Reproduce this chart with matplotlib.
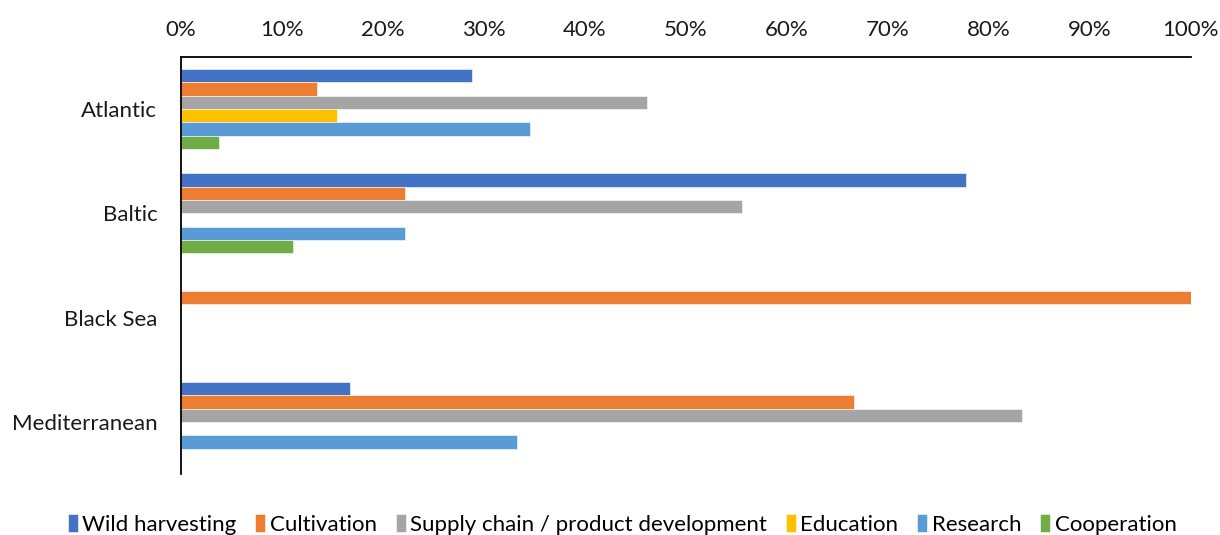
import numpy as np
import matplotlib.pyplot as plt
from matplotlib.ticker import PercentFormatter

plt.rcParams['font.family'] = ['Lato', 'DejaVu Sans']

regions = ['Atlantic', 'Baltic', 'Black Sea', 'Mediterranean']
series = ['Wild harvesting', 'Cultivation', 'Supply chain / product development',
          'Education', 'Research', 'Cooperation']
colors = ['#4472C4', '#ED7D31', '#A5A5A5', '#FFC000', '#5B9BD5', '#70AD47']

# share of respondents per region (%)
wild = [28.8, 77.8, 0, 16.7]
cultivation = [13.5, 22.2, 100, 66.7]
supply = [46.2, 55.6, 0, 83.3]
education = [15.4, 0, 0, 0]
research = [34.6, 22.2, 0, 33.3]
cooperation = [3.8, 11.1, 0, 0]
values = [wild, cultivation, supply, education, research, cooperation]

fig = plt.figure(figsize=(12.2, 5.35), dpi=100)
ax = fig.add_axes([0.1484, 0.114, 0.8275, 0.7795])

h = 0.128
y = np.arange(len(regions))
for i, (name, vals) in enumerate(zip(series, values)):
    ax.barh(y + (i - 2.5) * h, vals, height=h, color=colors[i], label=name,
            edgecolor='white', linewidth=0.4)

ax.set_ylim(len(regions) - 0.5, -0.5)
ax.set_xlim(0, 100)
ax.set_xticks(np.arange(0, 101, 10))
ax.xaxis.set_major_formatter(PercentFormatter(decimals=0))
ax.xaxis.tick_top()
ax.set_yticks(y)
ax.set_yticklabels(regions)
ax.tick_params(axis='both', length=0, labelsize=16, colors='#1a1a1a')
ax.tick_params(axis='y', pad=17)
ax.tick_params(axis='x', pad=12)
for s in ['right', 'bottom']:
    ax.spines[s].set_visible(False)
for s in ['top', 'left']:
    ax.spines[s].set_linewidth(1.3)
    ax.spines[s].set_color('black')

fig.legend(loc='center', bbox_to_anchor=(0.51, 0.02), ncol=6, frameon=False,
           fontsize=16, handlelength=0.45, handleheight=0.9, handletextpad=0.2,
           columnspacing=0.85, borderaxespad=0)

fig.savefig('out.png', dpi=100)
